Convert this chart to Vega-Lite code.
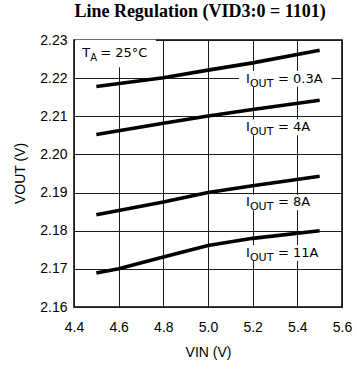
{
  "$schema": "https://vega.github.io/schema/vega-lite/v6.json",
  "width": 268,
  "height": 267,
  "autosize": "none",
  "padding": {"left": 74, "top": 40, "right": 15, "bottom": 63},
  "background": "white",
  "title": {
    "text": "Line Regulation (VID3:0 = 1101)",
    "font": "Liberation Serif",
    "fontSize": 18,
    "fontWeight": "bold",
    "color": "black",
    "anchor": "middle",
    "frame": "group",
    "dx": -8,
    "offset": 12
  },
  "datasets": {
    "lines": [
      {"iout": "0.3A", "vin": 4.5, "vout": 2.2178},
      {"iout": "0.3A", "vin": 4.8, "vout": 2.2201},
      {"iout": "0.3A", "vin": 5.0, "vout": 2.2221},
      {"iout": "0.3A", "vin": 5.2, "vout": 2.2240},
      {"iout": "0.3A", "vin": 5.5, "vout": 2.2273},
      {"iout": "4A", "vin": 4.5, "vout": 2.2052},
      {"iout": "4A", "vin": 4.8, "vout": 2.2082},
      {"iout": "4A", "vin": 5.0, "vout": 2.2101},
      {"iout": "4A", "vin": 5.2, "vout": 2.2118},
      {"iout": "4A", "vin": 5.5, "vout": 2.2142},
      {"iout": "8A", "vin": 4.5, "vout": 2.1842},
      {"iout": "8A", "vin": 4.8, "vout": 2.1875},
      {"iout": "8A", "vin": 5.0, "vout": 2.1900},
      {"iout": "8A", "vin": 5.2, "vout": 2.1918},
      {"iout": "8A", "vin": 5.5, "vout": 2.1943},
      {"iout": "11A", "vin": 4.5, "vout": 2.1689},
      {"iout": "11A", "vin": 4.6, "vout": 2.1700},
      {"iout": "11A", "vin": 4.8, "vout": 2.1731},
      {"iout": "11A", "vin": 5.0, "vout": 2.1761},
      {"iout": "11A", "vin": 5.2, "vout": 2.1780},
      {"iout": "11A", "vin": 5.5, "vout": 2.1800}
    ],
    "labels": [
      {"main": "I", "sub": "OUT", "rest": "= 0.3A", "vin": 5.17, "vout": 2.2198},
      {"main": "I", "sub": "OUT", "rest": "= 4A", "vin": 5.17, "vout": 2.2071},
      {"main": "I", "sub": "OUT", "rest": "= 8A", "vin": 5.17, "vout": 2.1874},
      {"main": "I", "sub": "OUT", "rest": "= 11A", "vin": 5.17, "vout": 2.1742}
    ],
    "temp": [
      {"main": "T", "sub": "A", "rest": "= 25°C", "vin": 4.437, "vout": 2.2267}
    ]
  },
  "config": {
    "view": {"stroke": "black", "strokeWidth": 1.5},
    "axis": {
      "domain": false,
      "ticks": false,
      "grid": true,
      "gridColor": "#1a1a1a",
      "gridOpacity": 1,
      "gridWidth": 1,
      "labelOverlap": false,
      "labelFont": "Liberation Sans",
      "labelFontSize": 14,
      "labelColor": "black",
      "titleFont": "Liberation Sans",
      "titleFontSize": 14,
      "titleFontWeight": "normal",
      "titleColor": "black"
    }
  },
  "encoding": {
    "x": {
      "field": "vin", "type": "quantitative",
      "scale": {"domain": [4.4, 5.6], "nice": false, "zero": false},
      "axis": {
        "values": [4.4, 4.6, 4.8, 5.0, 5.2, 5.4, 5.6],
        "format": ".1f",
        "labelPadding": 13,
        "labelFlush": false,
        "title": "VIN (V)",
        "titleX": 134,
        "titleY": 45,
        "titleBaseline": "middle",
        "titleAlign": "center"
      }
    },
    "y": {
      "field": "vout", "type": "quantitative",
      "scale": {"domain": [2.16, 2.23], "nice": false, "zero": false},
      "axis": {
        "values": [2.16, 2.17, 2.18, 2.19, 2.2, 2.21, 2.22, 2.23],
        "format": ".2f",
        "labelPadding": 7,
        "title": "VOUT (V)",
        "titleX": -54,
        "titleY": 133,
        "titleAngle": 270,
        "titleBaseline": "middle",
        "titleAlign": "center"
      }
    }
  },
  "layer": [
    {
      "data": {"name": "labels"},
      "mark": {"type": "point", "shape": "M-0.15,-0.17H1.86V0.17H-0.15Z", "size": 8464, "filled": true, "color": "white", "opacity": 1, "strokeWidth": 0}
    },
    {
      "data": {"name": "temp"},
      "mark": {"type": "point", "shape": "M-0.15,-0.28H1.6V0.32H-0.15Z", "size": 8464, "filled": true, "color": "white", "opacity": 1, "strokeWidth": 0}
    },
    {
      "data": {"name": "lines"},
      "mark": {"type": "line", "color": "black", "strokeWidth": 3.6, "strokeCap": "butt"},
      "encoding": {"detail": {"field": "iout", "type": "nominal"}}
    },
    {
      "data": {"name": "labels"},
      "mark": {"type": "text", "font": "DejaVu Sans", "fontSize": 13, "align": "left", "baseline": "middle", "color": "black", "dx": 0},
      "encoding": {"text": {"field": "main"}}
    },
    {
      "data": {"name": "labels"},
      "mark": {"type": "text", "font": "DejaVu Sans", "fontSize": 11, "align": "left", "baseline": "middle", "color": "black", "dx": 4, "dy": 5},
      "encoding": {"text": {"field": "sub"}}
    },
    {
      "data": {"name": "labels"},
      "mark": {"type": "text", "font": "DejaVu Sans", "fontSize": 13, "align": "left", "baseline": "middle", "color": "black", "dx": 32},
      "encoding": {"text": {"field": "rest"}}
    },
    {
      "data": {"name": "temp"},
      "mark": {"type": "text", "font": "DejaVu Sans", "fontSize": 13, "align": "left", "baseline": "middle", "color": "black", "dx": 0},
      "encoding": {"text": {"field": "main"}}
    },
    {
      "data": {"name": "temp"},
      "mark": {"type": "text", "font": "DejaVu Sans", "fontSize": 10, "align": "left", "baseline": "middle", "color": "black", "dx": 8, "dy": 5},
      "encoding": {"text": {"field": "sub"}}
    },
    {
      "data": {"name": "temp"},
      "mark": {"type": "text", "font": "DejaVu Sans", "fontSize": 13, "align": "left", "baseline": "middle", "color": "black", "dx": 18},
      "encoding": {"text": {"field": "rest"}}
    }
  ]
}
